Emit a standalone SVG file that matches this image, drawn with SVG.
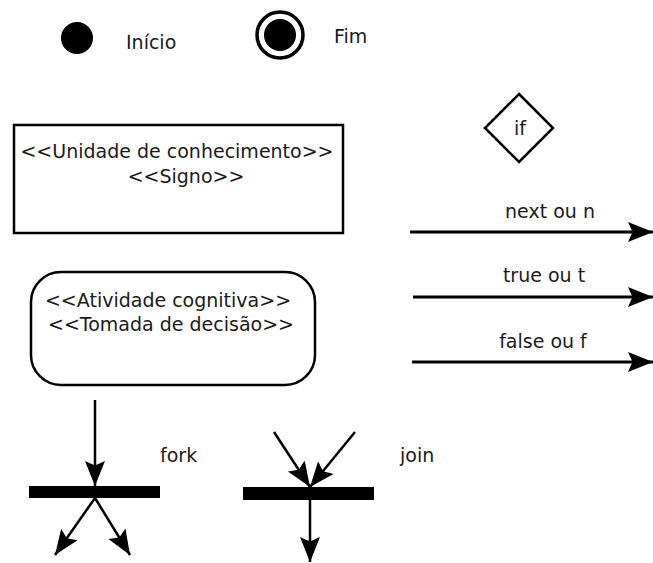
<svg xmlns="http://www.w3.org/2000/svg" width="653" height="563" viewBox="0 0 653 563">
<style>
text{font-family:"DejaVu Sans","Liberation Sans",sans-serif;font-size:19px;fill:#1a1a1a}
.c{stroke:#000;stroke-width:3;fill:none}
.t{stroke:#000;stroke-width:2.5;fill:none}
.box{fill:#fff;stroke:#000;stroke-width:2.5}
</style>
<defs>
<marker id="ah" viewBox="0 0 10 10" refX="10" refY="5" markerWidth="25" markerHeight="25" markerUnits="userSpaceOnUse" orient="auto">
<path d="M0,1 L10,5 L0,9 L1.8,5 z" fill="#000"/>
</marker>
</defs>
<rect width="653" height="563" fill="#fff"/>
<g id="inicio">
<circle cx="77" cy="38" r="16" fill="#000"/>
<text x="126" y="49">Início</text>
</g>
<g id="fim">
<circle cx="280" cy="35" r="23" fill="#fff" stroke="#000" stroke-width="3.5"/>
<circle cx="280" cy="35" r="16" fill="#000"/>
<text x="334" y="43">Fim</text>
</g>
<g id="if">
<polygon points="519,94 553,128 519,162 485,128" fill="#fff" stroke="#000" stroke-width="2.5"/>
<text x="520" y="135" text-anchor="middle">if</text>
</g>
<g id="unidade">
<rect x="14" y="125" width="329" height="108" class="box"/>
<text x="177" y="158" text-anchor="middle">&lt;&lt;Unidade de conhecimento&gt;&gt;</text>
<text x="186" y="183" text-anchor="middle">&lt;&lt;Signo&gt;&gt;</text>
</g>
<g id="atividade">
<rect x="31" y="272" width="284" height="113" rx="30" ry="30" class="box"/>
<text x="168" y="307" text-anchor="middle">&lt;&lt;Atividade cognitiva&gt;&gt;</text>
<text x="171" y="331" text-anchor="middle">&lt;&lt;Tomada de decisão&gt;&gt;</text>
</g>
<g id="fork">
<rect x="29" y="486" width="131" height="12" fill="#000"/>
<text x="160" y="462">fork</text>
</g>
<g id="join">
<rect x="243" y="487" width="131" height="13" fill="#000"/>
<text x="400" y="462">join</text>
</g>
<g id="connectors">
<line x1="410" y1="232" x2="653" y2="232" class="c" marker-end="url(#ah)"/>
<text x="550" y="218" text-anchor="middle">next ou n</text>
<line x1="413" y1="297" x2="653" y2="297" class="c" marker-end="url(#ah)"/>
<text x="544" y="282" text-anchor="middle">true ou t</text>
<line x1="412" y1="362" x2="653" y2="362" class="c" marker-end="url(#ah)"/>
<text x="543" y="348" text-anchor="middle">false ou f</text>
<line x1="95" y1="400" x2="95" y2="486" class="t" marker-end="url(#ah)"/>
<line x1="95" y1="498" x2="55" y2="555" class="t" marker-end="url(#ah)"/>
<line x1="95" y1="498" x2="130" y2="555" class="t" marker-end="url(#ah)"/>
<line x1="274" y1="432" x2="310" y2="487" class="t" marker-end="url(#ah)"/>
<line x1="355" y1="432" x2="310" y2="487" class="t" marker-end="url(#ah)"/>
<line x1="310" y1="500" x2="310" y2="562" class="t" marker-end="url(#ah)"/>
</g>
</svg>
